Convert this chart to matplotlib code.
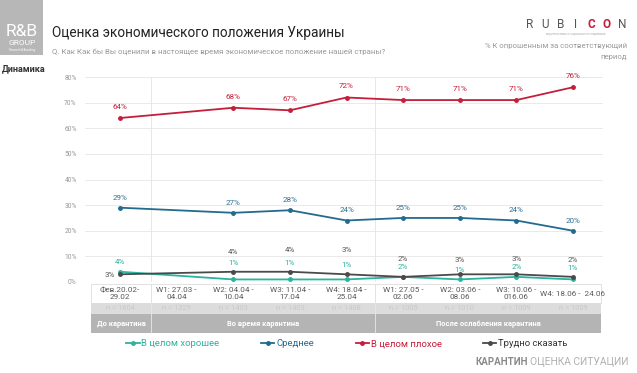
import numpy as np
import matplotlib.pyplot as plt
from matplotlib.patches import Rectangle
from matplotlib.lines import Line2D
from matplotlib.transforms import blended_transform_factory

plt.rcParams['font.family'] = ['Roboto', 'DejaVu Sans']

# Data
periods = ['Фев.20.02-\n29.02', 'W1: 27.03 -\n04.04', 'W2: 04.04 -\n10.04',
           'W3: 11.04 -\n17.04', 'W4: 18.04 -\n25.04', 'W1: 27.05 -\n02.06',
           'W2: 03.06 -\n08.06', 'W3: 10.06 -\n016.06', 'W4: 18.06 -  24.06']
sample_n = ['n = 1604', 'n = 1329', 'n = 1403', 'n = 1403', 'n = 1408',
            'n = 1005', 'n = 1010', 'n = 1009', 'n = 1009']
stages = ['До карантина', 'Во время карантина', 'После ослабления карантина']

good = [4, np.nan, 1, 1, 1, 2, 1, 2, 1]
medium = [29, np.nan, 27, 28, 24, 25, 25, 24, 20]
bad = [64, np.nan, 68, 67, 72, 71, 71, 71, 76]
hard = [3, np.nan, 4, 4, 3, 2, 3, 3, 2]

names = ['В целом хорошее', 'Среднее', 'В целом плохое', 'Трудно сказать']
colors = ['#2bb3a0', '#236b8e', '#c41e3a', '#4a4a4a']
label_colors = ['#2bb3a0', '#2f6f92', '#c41e3a', '#555555']

# label offsets in pixels (dx, dy) for each point
good_off = [(0, 10), None, (0, 16), (0, 16), (0, 14), (0, 10), (0, 9), (0, 10), (0, 11)]
medium_off = [(0, 10)] * 9
bad_off = [(0, 11)] * 9
hard_off = [(-10, -1), None, (0, 20), (0, 22), (0, 24), (0, 18), (0, 14), (0, 15), (0, 17)]

W, H = 637, 373
fig = plt.figure(figsize=(W / 100, H / 100), dpi=100)


def fy(px):
    return 1 - px / H


def fx(px):
    return px / W


ax = fig.add_axes([fx(85), fy(282), fx(603) - fx(85), fy(77) - fy(282)])
x = np.arange(len(periods))

for vals, offs, c, lc in zip([good, medium, bad, hard], [good_off, medium_off, bad_off, hard_off],
                             colors, label_colors):
    arr = np.array(vals, dtype=float)
    ok = ~np.isnan(arr)
    ax.plot(x[ok], arr[ok], color=c, lw=1.3, marker='o', ms=2.5, zorder=3)
    for xi, v, o in zip(x, vals, offs):
        if np.isnan(v):
            continue
        ax.annotate(f'{v:.0f}%', (xi, v), xytext=o, textcoords='offset pixels',
                    ha='center', va='center', fontsize=5.8, color=lc, annotation_clip=False)

ax.set_xlim(-0.62, 8.53)
ax.set_ylim(0, 80)
ax.set_yticks(range(0, 81, 10))
ax.set_yticklabels([f'{t}%' for t in range(0, 81, 10)], fontsize=4.8, color='#999999')
ax.tick_params(axis='y', length=0, pad=6)
ax.set_xticks([])
ax.grid(axis='y', color='#e6e6e6', lw=0.6)
ax.set_axisbelow(True)
for s in ax.spines.values():
    s.set_visible(False)
for xv in [0.55, 4.5]:
    ax.axvline(xv, color='#e3e3e3', lw=0.6, zorder=1)

# Table under the chart
tr = blended_transform_factory(ax.transData, fig.transFigure)
rows = [284, 303, 314, 333]
fig.add_artist(Rectangle((-0.52, fy(rows[1])), 9.02, fy(rows[0]) - fy(rows[1]), transform=tr,
                         facecolor='white', edgecolor='#dddddd', lw=0.6))
fig.add_artist(Rectangle((-0.52, fy(rows[2])), 9.02, fy(rows[1]) - fy(rows[2]), transform=tr,
                         facecolor='#dcdcdc', edgecolor='none'))
fig.add_artist(Rectangle((-0.52, fy(rows[3])), 9.02, fy(rows[2]) - fy(rows[3]), transform=tr,
                         facecolor='#b4b4b4', edgecolor='none'))
for xv in [0.55, 4.5]:
    fig.add_artist(Line2D([xv, xv], [fy(rows[0]), fy(rows[1])], transform=tr, color='#dddddd', lw=0.6))
    fig.add_artist(Line2D([xv, xv], [fy(rows[1]), fy(rows[3])], transform=tr, color='#e8e8e8', lw=0.6))

for xi, p, n in zip(x, periods, sample_n):
    fig.text(xi, fy((rows[0] + rows[1]) / 2), p, transform=tr, ha='center', va='center',
             fontsize=5.9, color='#5a5a5a', linespacing=1.15)
    fig.text(xi, fy((rows[1] + rows[2]) / 2), n, transform=tr, ha='center', va='center',
             fontsize=5.4, color='#c8c8c8')

stage_edges = [(-0.52, 0.55), (0.55, 4.5), (4.5, 8.5)]
for st, (a, b) in zip(stages, stage_edges):
    fig.text((a + b) / 2, fy((rows[2] + rows[3]) / 2), st, transform=tr, ha='center', va='center',
             fontsize=5.4, color='white', fontweight='bold')

# Legend
handles = [Line2D([], [], color=c, lw=1.3, marker='o', ms=2.5) for c in colors]
leg = fig.legend(handles, names, loc='center', bbox_to_anchor=(fx(347), fy(344)), ncol=4,
                 frameon=False, fontsize=6.8, handlelength=1.4, handletextpad=0.2, columnspacing=4.4)
for t, c in zip(leg.get_texts(), ['#2bb3a0', '#236b8e', '#c41e3a', '#333333']):
    t.set_color(c)

# Header
fig.add_artist(Rectangle((0, fy(55)), fx(43), fy(0) - fy(55), transform=fig.transFigure,
                         facecolor='#b7b7b7', edgecolor='none'))
fig.text(fx(22), fy(31), 'R&B', ha='center', va='center', fontsize=12.5, color='white')
fig.text(fx(22), fy(43), 'GROUP', ha='center', va='center', fontsize=6, color='white')
fig.text(fx(22), fy(50.5), 'Research & Branding', ha='center', va='center', fontsize=2, color='white')

fig.text(fx(52), fy(33), 'Оценка экономического положения Украины', ha='left', va='center',
         fontsize=9.8, color='#222222')
fig.text(fx(52), fy(52), 'Q. Как Как бы Вы оценили в настоящее время экономическое положение нашей страны?',
         ha='left', va='center', fontsize=5.7, color='#999999')
fig.text(fx(2), fy(69), 'Динамика', ha='left', va='center', fontsize=6.5, color='#333333',
         fontweight='bold')

letters = ['R', 'U', 'B', 'I', 'C', 'O', 'N']
for i, ch in enumerate(letters):
    red = ch in ('C', 'O')
    fig.text(fx(530 + i * 15.3), fy(24), ch, ha='center', va='center', fontsize=8.5,
             color='#c41e3a' if red else '#555555', fontweight='bold' if red else 'normal')
fig.text(fx(576), fy(33.5), 'маркетинговые и социальные исследования', ha='center', va='center',
         fontsize=2, color='#aaaaaa')
fig.text(fx(627), fy(46), '% К опрошенным за соответствующий', ha='right', va='center',
         fontsize=5.6, color='#999999')
fig.text(fx(627), fy(57), 'период', ha='right', va='center', fontsize=5.6, color='#999999')

fig.text(fx(528), fy(362), 'КАРАНТИН', ha='right', va='center', fontsize=7, color='#8a8a8a',
         fontweight='bold')
fig.text(fx(530), fy(362), 'ОЦЕНКА СИТУАЦИИ', ha='left', va='center', fontsize=7.4, color='#b0b0b0')

fig.savefig('out.png', dpi=100)
